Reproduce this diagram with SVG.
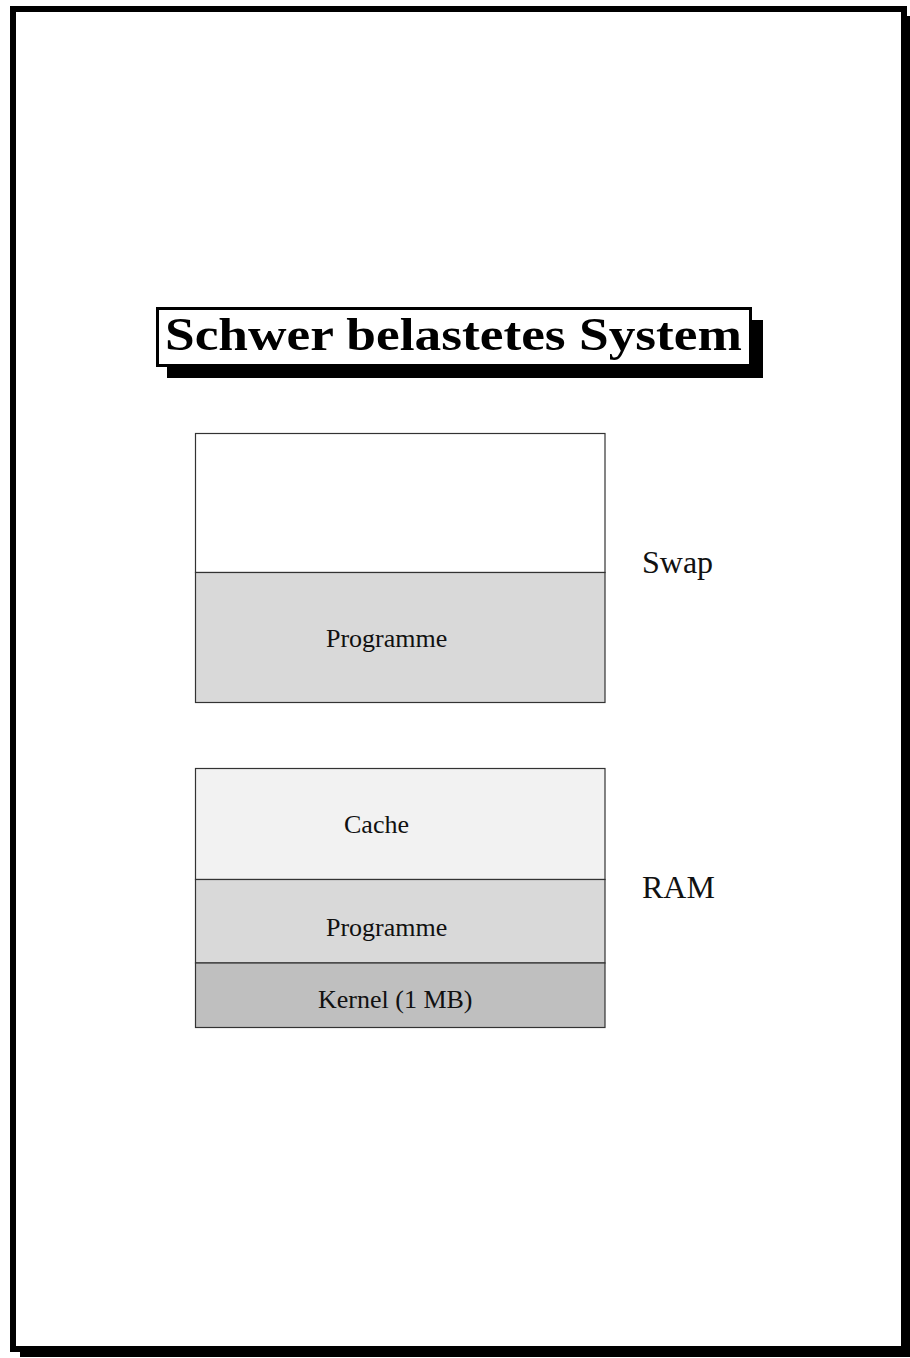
<svg xmlns="http://www.w3.org/2000/svg" width="910" height="1358" viewBox="0 0 910 1358">
<style>
.lbl{font-family:"Liberation Serif","Times New Roman",serif;font-size:26px;fill:#111}
.side{font-family:"Liberation Serif","Times New Roman",serif;font-size:32px;fill:#111}
.title{font-family:"Liberation Serif","Times New Roman",serif;font-size:46px;font-weight:bold;fill:#000}
.cell{stroke:#333;stroke-width:1.2}
</style>
<rect width="910" height="1358" fill="#fff"/>
<g id="frame">
<rect x="13" y="9" width="891" height="1340" fill="none" stroke="#000" stroke-width="6"/>
<rect x="20" y="1349" width="890" height="8" fill="#000"/>
<rect x="904" y="16" width="6" height="1341" fill="#000"/>
</g>
<g id="title">
<rect x="167" y="320" width="596" height="58" fill="#000"/>
<rect x="157.5" y="308.5" width="593" height="57" fill="#fff" stroke="#000" stroke-width="3"/>
<text class="title" x="165" y="350" textLength="577" lengthAdjust="spacingAndGlyphs">Schwer belastetes System</text>
</g>
<g id="swap">
<rect class="cell" x="195.5" y="433.5" width="409.5" height="139" fill="#fff"/>
<rect class="cell" x="195.5" y="572.5" width="409.5" height="130" fill="#d9d9d9"/>
<text class="lbl" x="326" y="647">Programme</text>
<text class="side" x="642" y="573">Swap</text>
</g>
<g id="ram">
<rect class="cell" x="195.5" y="768.5" width="409.5" height="111" fill="#f2f2f2"/>
<rect class="cell" x="195.5" y="879.5" width="409.5" height="83.5" fill="#d9d9d9"/>
<rect class="cell" x="195.5" y="963" width="409.5" height="64.5" fill="#bfbfbf"/>
<text class="lbl" x="344" y="833">Cache</text>
<text class="lbl" x="326" y="936">Programme</text>
<text class="lbl" x="318" y="1008">Kernel (1 MB)</text>
<text class="side" x="642" y="898">RAM</text>
</g>
<g id="connectors"></g>
</svg>
